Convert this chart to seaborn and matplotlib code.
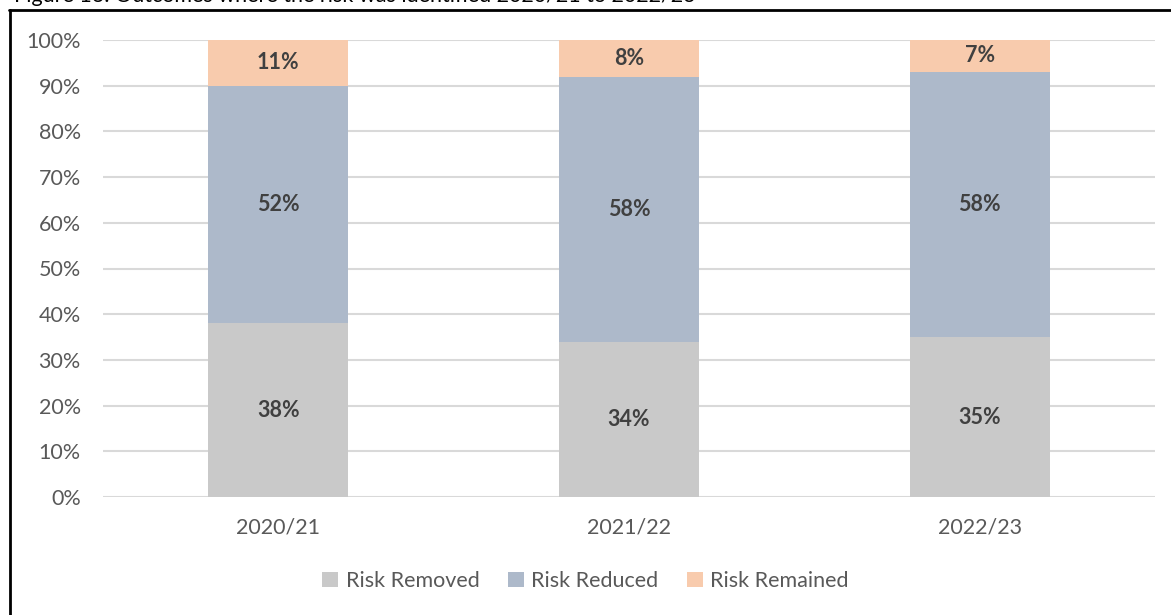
import matplotlib
matplotlib.use("Agg")
import matplotlib.pyplot as plt
from matplotlib.patches import Patch
from matplotlib.lines import Line2D
from matplotlib.ticker import PercentFormatter
import numpy as np
import pandas as pd
import seaborn as sns

# Outcomes where the risk was identified, share of cases per year (%)
years = ["2020/21", "2021/22", "2022/23"]
risk_removed = [38, 34, 35]
risk_reduced = [52, 58, 58]
risk_remained = [11, 8, 7]
series_names = ["Risk Removed", "Risk Reduced", "Risk Remained"]
series_colors = ["#C9C9C9", "#ADB9CA", "#F8CBAD"]
y_ticks = list(range(0, 101, 10))

sns.set_theme(style="white")
plt.rcParams["font.family"] = ["Lato", "DejaVu Sans"]

W, H = 1171, 615
fig = plt.figure(figsize=(W / 100, H / 100), dpi=100)
ax = fig.add_axes([103 / W, 1 - 497 / H, (1155 - 103) / W, (497 - 40) / H])

df = pd.DataFrame({"year": years, "removed": risk_removed,
                   "reduced": risk_reduced, "remained": risk_remained})
df["top_removed"] = df["removed"]
df["top_reduced"] = df["removed"] + df["reduced"]
df["top_remained"] = df["top_reduced"] + df["remained"]

# Stacked bars: draw the cumulative totals from tallest to shortest
for col, color in [("top_remained", series_colors[2]),
                   ("top_reduced", series_colors[1]),
                   ("top_removed", series_colors[0])]:
    sns.barplot(data=df, x="year", y=col, color=color, width=0.4,
                saturation=1, edgecolor="none", linewidth=0, ax=ax, zorder=3)

ax.set_ylim(0, 100)
ax.set_xlim(-0.5, 2.5)
ax.set_yticks(y_ticks)
ax.yaxis.set_major_formatter(PercentFormatter(decimals=0))
ax.grid(axis="y", color="#D9D9D9", linewidth=1.5, zorder=0)
ax.grid(axis="x", visible=False)
for s in ax.spines.values():
    s.set_visible(False)
ax.set_xlabel("")
ax.set_ylabel("")
ax.tick_params(axis="both", length=0, labelsize=15.5, labelcolor="#595959")
ax.tick_params(axis="y", pad=16)
ax.tick_params(axis="x", pad=15)

# Segment value labels, centred on the visible part of each segment
for i, row in df.iterrows():
    segs = [(0, row["removed"]), (row["top_removed"], row["reduced"]),
            (row["top_reduced"], row["remained"])]
    for base, val in segs:
        top_clip = min(base + val, 100)
        mid = (base + top_clip) / 2
        ax.text(i, mid, f"{val}%", ha="center", va="center", fontsize=15.5,
                fontweight="bold", color="#404040", zorder=5)

handles = [Patch(facecolor=c, edgecolor="none", label=n)
           for n, c in zip(series_names, series_colors)]
leg = fig.legend(handles=handles, loc="center", bbox_to_anchor=(0.5, 1 - 581 / H),
                 ncol=3, frameon=False, fontsize=15.5, handlelength=0.75,
                 handleheight=0.75, handletextpad=0.35, columnspacing=1.3)
for t in leg.get_texts():
    t.set_color("#595959")

# Outer frame (left and top edges)
fig.add_artist(Line2D([9.5 / W, 9.5 / W], [0, 1 - 10 / H], color="black",
                      linewidth=2, transform=fig.transFigure))
fig.add_artist(Line2D([9 / W, 1], [1 - 10 / H, 1 - 10 / H], color="black",
                      linewidth=2, transform=fig.transFigure))

# Figure caption sitting above the frame
fig.text(14 / W, 1 + 4 / H, "Figure 16: Outcomes where the risk was identified 2020/21 to 2022/23",
         ha="left", va="center", fontsize=15.5, color="black")

fig.savefig("out.png", dpi=100)
